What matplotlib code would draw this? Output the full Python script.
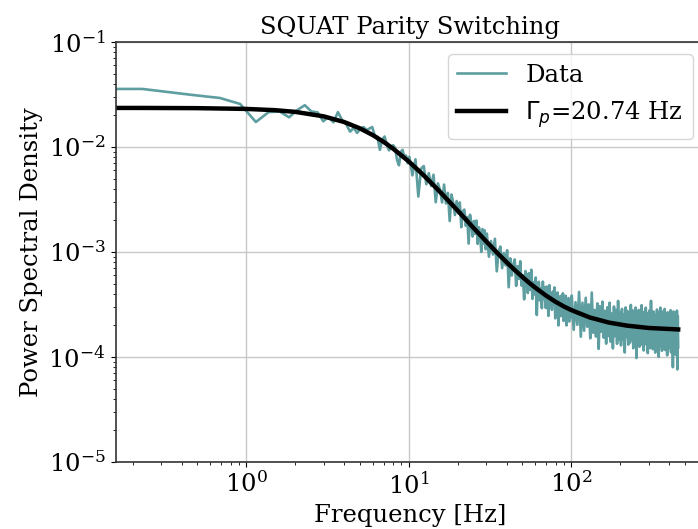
"""Parity switching PSD of the SQUAT with Lorentzian fit."""
import numpy as np
import matplotlib

matplotlib.use("Agg")
import matplotlib.pyplot as plt

# ----------------------------------------------------------------------
# data (PSD, stored as log10 values)
# ----------------------------------------------------------------------
df = 0.229  # frequency bin spacing [Hz]

# bin indices kept for each stretch of the spectrum
bins_a = np.arange(0, 44)
bins_b = np.arange(44, 131, 2)
bins_c = np.arange(132, 437, 4)
bins_d = np.arange(440, 1989, 12)

psd_log10_a = [
    -1.447, -1.447, -1.503, -1.533, -1.590, -1.762, -1.667, -1.662, -1.717, -1.648,
    -1.602, -1.662, -1.670, -1.755, -1.714, -1.765, -1.668, -1.745, -1.783, -1.854,
    -1.818, -1.866, -1.824, -1.810, -1.839, -1.824, -1.810, -1.893, -1.903, -2.027,
    -1.928, -1.900, -1.979, -2.032, -2.000, -1.983, -2.009, -2.125, -2.174, -2.046,
    -2.027, -2.097, -2.081, -2.155,
]
psd_log10_b = [
    -2.093, -2.270, -2.117, -2.472, -2.206, -2.181, -2.355, -2.249, -2.372, -2.264,
    -2.526, -2.346, -2.408, -2.528, -2.358, -2.538, -2.437, -2.705, -2.453, -2.531,
    -2.648, -2.515, -2.632, -2.528, -2.764, -2.610, -2.596, -2.751, -2.666, -2.920,
    -2.645, -2.729, -2.852, -2.705, -2.828, -2.701, -2.923, -2.765, -2.827, -2.999,
    -2.781, -2.922, -2.793, -2.974,
]
psd_log10_c = [
    -2.825, -3.045, -2.895, -3.024, -2.874, -3.184, -2.991, -2.948, -3.154, -3.010,
    -3.127, -2.983, -3.336, -3.060, -3.224, -3.118, -3.071, -3.323, -3.135, -3.257,
    -3.088, -3.320, -3.221, -3.451, -3.181, -3.221, -3.391, -3.202, -3.360, -3.169,
    -3.447, -3.286, -3.405, -3.243, -3.600, -3.297, -3.284, -3.461, -3.348, -3.535,
    -3.282, -3.449, -3.336, -3.533, -3.329, -3.404, -3.609, -3.315, -3.510, -3.395,
    -3.551, -3.376, -3.501, -3.337, -3.632, -3.417, -3.561, -3.385, -3.699, -3.423,
    -3.457, -3.611, -3.415, -3.569, -3.393, -3.657, -3.470, -3.613, -3.416, -3.699,
    -3.452, -3.566, -3.439, -3.662, -3.485, -3.629, -3.462,
]
psd_log10_d = [
    -3.415, -3.741, -3.478, -3.694, -3.380, -3.807, -3.483, -3.750, -3.436, -3.712,
    -3.499, -3.822, -3.386, -3.769, -3.552, -3.806, -3.489, -3.923, -3.516, -3.759,
    -3.473, -3.816, -3.560, -3.873, -3.526, -3.800, -3.483, -3.854, -3.586, -3.918,
    -3.519, -3.801, -3.552, -3.874, -3.466, -3.837, -3.579, -3.890, -3.542, -3.834,
    -3.595, -3.957, -3.528, -3.810, -3.561, -3.882, -3.583, -3.863, -3.504, -3.835,
    -3.556, -3.917, -3.618, -3.858, -3.529, -4.010, -3.581, -3.832, -3.552, -3.903,
    -3.604, -3.855, -3.506, -3.886, -3.597, -3.938, -3.569, -3.820, -3.530, -3.881,
    -3.582, -3.963, -3.624, -3.854, -3.554, -3.915, -3.465, -3.875, -3.606, -3.926,
    -3.567, -3.847, -3.597, -3.958, -3.638, -3.898, -3.548, -3.869, -3.579, -3.999,
    -3.610, -3.890, -3.530, -3.841, -3.591, -3.941, -3.621, -3.912, -3.562, -3.862,
    -3.542, -3.933, -3.603, -3.883, -3.633, -3.984, -3.574, -3.854, -3.594, -3.915,
    -3.615, -3.875, -3.555, -3.956, -3.586, -3.896, -3.626, -4.097, -3.567, -3.867,
    -3.597, -3.927, -3.617, -3.978, -3.578, -3.888, -3.558, -4.118, -3.608, -3.908,
]

# Lorentzian fit, Gamma_p = 20.74 Hz
fit_freq = [0, 0.229, 0.5, 1, 1.5, 2, 3, 4, 5, 6, 7, 8, 10, 12, 15, 20, 25,
            30, 35, 40, 45, 50, 55, 60, 70, 80, 90, 100, 130, 170, 220, 300,
            455.3]
fit_psd = [0.02358, 0.02355, 0.02344, 0.02305, 0.02243, 0.02161, 0.01957,
           0.01729, 0.01505, 0.01299, 0.01119, 0.00966, 0.00728, 0.00561,
           0.00397, 0.00248, 0.00170, 0.00126, 0.000982, 0.000798, 0.000671,
           0.000579, 0.000510, 0.000458, 0.000384, 0.000336, 0.000303,
           0.000280, 0.000238, 0.000213, 0.000199, 0.000189, 0.000183]
gamma_p = 20.74

freq = df * np.concatenate([bins_a, bins_b, bins_c, bins_d])
psd = 10.0 ** np.concatenate([psd_log10_a, psd_log10_b,
                              psd_log10_c, psd_log10_d])

# ----------------------------------------------------------------------
# plot
# ----------------------------------------------------------------------
plt.rcParams["font.family"] = "serif"
plt.rcParams["font.serif"] = ["DejaVu Serif"]
plt.rcParams["font.size"] = 17.5

fig = plt.figure(figsize=(6.98, 5.29), dpi=100)
ax = fig.add_axes([115.5 / 698, 67 / 529, 589.5 / 698, 420 / 529])

ax.plot(freq, psd, color="cadetblue", lw=1.9, label="Data")
ax.plot(fit_freq, fit_psd, color="k", lw=3.2,
        label=r"$\Gamma_p$=" + f"{gamma_p:.2f} Hz")

ax.set_xscale("log")
ax.set_yscale("log")
ax.set_ylim(1e-5, 1e-1)
ax.grid(True, which="major", color="#c8c8c8", lw=1)
for s in ax.spines.values():
    s.set_color("#333333")
    s.set_linewidth(1.2)

ax.set_xlabel("Frequency [Hz]")
ax.set_ylabel("Power Spectral Density")
ax.set_title("SQUAT Parity Switching", fontsize=17.5)
ax.legend(loc="upper right", fontsize=17.5)

fig.savefig("out.png", dpi=100)
plt.close(fig)
